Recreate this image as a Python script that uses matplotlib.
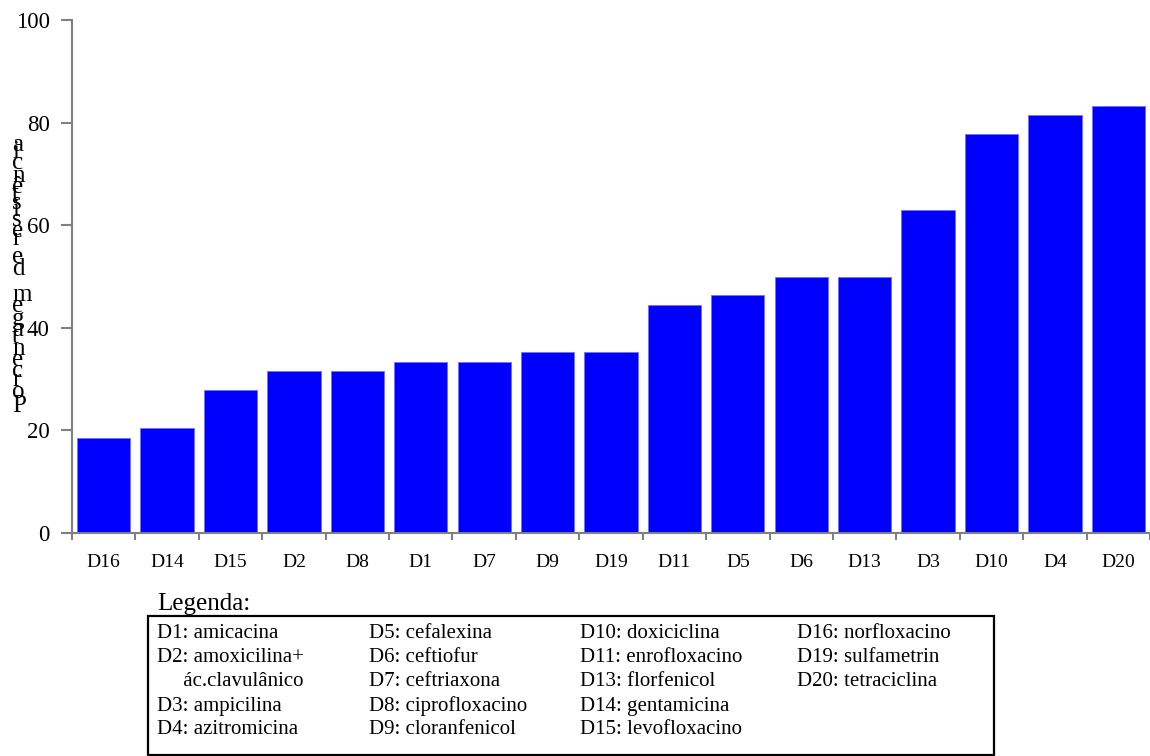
import matplotlib.pyplot as plt
from matplotlib.patches import Rectangle
from matplotlib.font_manager import FontProperties
from matplotlib.textpath import TextToPath

plt.rcParams['font.family'] = ['Liberation Serif', 'DejaVu Serif']

# data (percent of resistant isolates)
drugs = ['D16', 'D14', 'D15', 'D2', 'D8', 'D1', 'D7', 'D9', 'D19',
         'D11', 'D5', 'D6', 'D13', 'D3', 'D10', 'D4', 'D20']
resistance = [18.5, 20.4, 27.8, 31.5, 31.5, 33.3, 33.3, 35.2, 35.2,
              44.4, 46.3, 50.0, 50.0, 63.0, 77.8, 81.5, 83.3]
y_ticks = [0, 20, 40, 60, 80, 100]
y_label = 'Porcentagem de resistência'

legend_title = 'Legenda:'
legend_cols = [
    ['D1: amicacina', 'D2: amoxicilina+', '     ác.clavulânico', 'D3: ampicilina', 'D4: azitromicina'],
    ['D5: cefalexina', 'D6: ceftiofur', 'D7: ceftriaxona', 'D8: ciprofloxacino', 'D9: cloranfenicol'],
    ['D10: doxiciclina', 'D11: enrofloxacino', 'D13: florfenicol', 'D14: gentamicina', 'D15: levofloxacino'],
    ['D16: norfloxacino', 'D19: sulfametrin', 'D20: tetraciclina'],
]

W, H = 1150, 756
fig = plt.figure(figsize=(W / 100, H / 100), dpi=100)
ax = fig.add_axes([72 / W, 1 - 533 / H, (1150 - 72) / W, (533 - 20) / H])

x = list(range(len(drugs)))
ax.bar(x, resistance, width=0.84, color='#0000ff', edgecolor='#7070ff', linewidth=0.6)

ax.set_xlim(-0.5, len(drugs) - 0.5)
ax.set_ylim(0, 100)
ax.set_yticks(y_ticks)
ax.set_xticks(x)
ax.set_xticklabels(drugs, fontsize=14)
ax.set_xticks([i - 0.5 for i in range(len(drugs) + 1)], minor=True)
ax.tick_params(axis='x', which='major', length=0, pad=15)
ax.tick_params(axis='x', which='minor', length=5, width=1.5, color='#808080')
ax.tick_params(axis='y', length=8, width=1.5, color='#808080', labelsize=16.5, pad=8)
for s in ['top', 'right']:
    ax.spines[s].set_visible(False)
for s in ['left', 'bottom']:
    ax.spines[s].set_color('#808080')
    ax.spines[s].set_linewidth(1.5)

# y label drawn as upright glyphs stacked bottom-to-top
fp = FontProperties(family='Liberation Serif', size=18)
ttp = TextToPath()
pos = 756 - 412  # baseline of first glyph, in pixels from bottom
for ch in y_label:
    w, h, d = ttp.get_text_width_height_descent(ch, fp, ismath=False)
    fig.text(12 / W, pos / H, ch, fontproperties=fp, ha='left', va='baseline')
    pos += w * 100 / 72

# legend block
fig.text(157 / W, 1 - 604 / H, legend_title, fontsize=18, ha='left', va='center')
fig.patches.append(Rectangle((148 / W, 1 / H), (994 - 148) / W, 139 / H,
                             transform=fig.transFigure, fill=False, edgecolor='black',
                             linewidth=1.6))
col_x = [157, 369, 580, 797]
row_y = [634, 658, 682, 706, 730]
for cx, col in zip(col_x, legend_cols):
    for ry, line in zip(row_y, col):
        fig.text(cx / W, 1 - ry / H, line, fontsize=15, ha='left', va='center')

fig.savefig('out.png', dpi=100)
